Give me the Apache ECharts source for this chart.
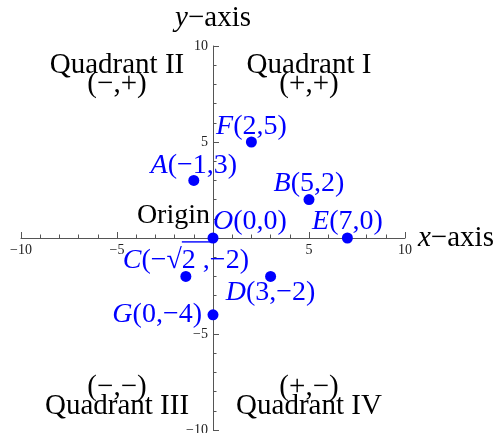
<!DOCTYPE html>
<html>
<head lang="en">
	<meta charset="UTF-8">
	<title>Quadrants</title>
	<script type="text/javascript" src="https://cdn.jsdelivr.net/npm/echarts@6.0.0/dist/echarts.min.js"></script>
	<style>
		html, body { margin: 0; padding: 0; background: #fff; }
		#plane { width: 500px; height: 433px; }
	</style>
</head>
<body>
<div id="plane"></div>
</body>
<script>
// 点
var pointNames = ['F', 'A', 'B', 'O', 'E', 'C', 'D', 'G'];
var pointX = [2, -1, 5, 0, 7, -1.4142, 3, 0];
var pointY = [5, 3, 2, 0, 0, -2, -2, -4];
var pointCoords = ['(2,5)', '(−1,3)', '(5,2)', '(0,0)', '(7,0)', '(−√2 ,−2)', '(3,−2)', '(0,−4)'];

// 象限说明
var quadX = [5, -5, -5, 5];
var quadY = [8.5, 8.5, -8.3, -8.3];
var quadText = ['Quadrant I\n(+,+)', 'Quadrant II\n(−,+)', '(−,−)\nQuadrant III', '(+,−)\nQuadrant IV'];

// 坐标轴
var axisMin = -10;
var axisMax = 10;
var axisStep = 5;

var serif = "'Liberation Serif', 'Times New Roman', serif";
var blue = '#0000ff';
var axisColor = '#555';

// 绘图区
var gridLeft = 21, gridRight = 95, gridTop = 46, gridBottom = 3;
var gridW = 500 - gridLeft - gridRight;
var gridH = 433 - gridTop - gridBottom;

// 标签位置
var labelPlace = {
	F: { align: 'center', offset: [0, -15] },
	A: { align: 'center', offset: [0, -15] },
	B: { align: 'center', offset: [0, -16] },
	O: { align: 'left', offset: [0, -16] },
	E: { align: 'center', offset: [0, -16] },
	C: { align: 'center', offset: [0, -16] },
	D: { align: 'center', offset: [0, 16] },
	G: { align: 'right', offset: [-11, 0] }
};

function tickText(v) {
	if (v === 0) {
		return '';
	}
	return v < 0 ? '−' + (-v) : '' + v;
}

function buildPoints() {
	var res = [];
	for (var i = 0; i < pointNames.length; i++) {
		var p = labelPlace[pointNames[i]];
		res.push({
			value: [pointX[i], pointY[i]],
			name: pointNames[i],
			label: {
				align: p.align,
				offset: p.offset,
				formatter: '{i|' + pointNames[i] + '}{n|' + pointCoords[i] + '}'
			}
		});
	}
	return res;
}

function buildQuads() {
	var res = [];
	for (var i = 0; i < quadText.length; i++) {
		res.push({ value: [quadX[i], quadY[i]], label: { formatter: quadText[i] } });
	}
	return res;
}

// 轴线放到中间：onZero 在 v6 里标签留在边上，所以用 offset
function axisOption(nameLetter, shift) {
	return {
		type: 'value',
		min: axisMin,
		max: axisMax,
		interval: axisStep,
		offset: shift,
		axisLine: { show: true, onZero: false, lineStyle: { color: axisColor, width: 1 } },
		axisTick: { show: true, inside: true, length: 6, lineStyle: { color: axisColor } },
		minorTick: { show: true, splitNumber: 5, length: 3.5, lineStyle: { color: axisColor } },
		splitLine: { show: false },
		minorSplitLine: { show: false },
		axisLabel: {
			margin: 5,
			fontSize: 14,
			fontFamily: serif,
			color: '#222',
			showMinLabel: true,
			showMaxLabel: true,
			hideOverlap: false,
			formatter: tickText
		},
		name: '{i|' + nameLetter + '}{n|−axis}',
		nameLocation: 'end',
		nameGap: 13,
		nameMoveOverlap: false,
		nameTextStyle: {
			fontSize: 29,
			fontFamily: serif,
			color: '#000',
			rich: {
				i: { fontStyle: 'italic', fontSize: 29, fontFamily: serif, color: '#000' },
				n: { fontSize: 29, fontFamily: serif, color: '#000' }
			}
		}
	};
}

var myChart = echarts.init(document.getElementById('plane'));
var option = {
	animation: false,
	backgroundColor: '#fff',
	grid: {
		left: gridLeft,
		right: gridRight,
		top: gridTop,
		bottom: gridBottom,
		containLabel: false,
		outerBoundsMode: 'none'
	},
	xAxis: axisOption('x', -gridH / 2),
	yAxis: axisOption('y', -gridW / 2),
	series: [
		{
			name: 'quadrants',
			type: 'scatter',
			symbolSize: 0,
			silent: true,
			itemStyle: { opacity: 1 },
			data: buildQuads(),
			label: {
				show: true,
				position: 'inside',
				fontSize: 29,
				lineHeight: 19,
				fontFamily: serif,
				color: '#000',
				opacity: 1
			}
		},
		{
			name: 'origin',
			type: 'scatter',
			symbolSize: 0,
			silent: true,
			itemStyle: { opacity: 1 },
			data: [[0, 0]],
			label: {
				show: true,
				position: 'inside',
				align: 'right',
				offset: [-3, -22],
				fontSize: 28,
				fontFamily: serif,
				color: '#000',
				opacity: 1,
				formatter: 'Origin'
			}
		},
		{
			name: 'points',
			type: 'scatter',
			symbol: 'circle',
			symbolSize: 11,
			silent: true,
			itemStyle: { color: blue, opacity: 1 },
			data: buildPoints(),
			label: {
				show: true,
				position: 'inside',
				opacity: 1,
				rich: {
					i: { fontStyle: 'italic', fontSize: 28, fontFamily: serif, color: blue },
					n: { fontSize: 28, fontFamily: serif, color: blue }
				}
			}
		},
		{
			// 根号上的横线
			name: 'vinculum',
			type: 'scatter',
			symbolSize: 0,
			silent: true,
			itemStyle: { opacity: 1 },
			data: [[pointX[5], pointY[5]]],
			label: {
				show: true,
				position: 'inside',
				offset: [10.5, -34.5],
				opacity: 1,
				formatter: '{bar| }',
				rich: {
					bar: { width: 29, height: 1.4, lineHeight: 1.4, fontSize: 1, backgroundColor: blue }
				}
			}
		}
	]
};
myChart.setOption(option);
</script>
</html>
